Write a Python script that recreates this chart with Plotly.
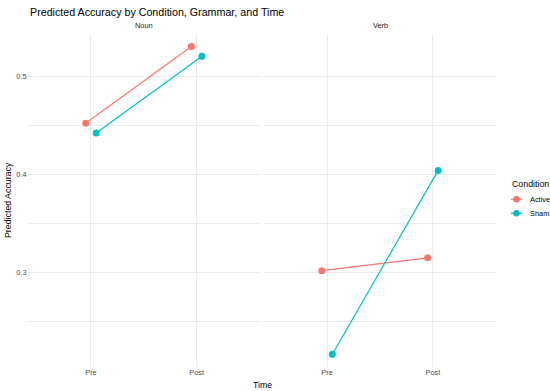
import plotly.graph_objects as go

title = "Predicted Accuracy by Condition, Grammar, and Time"
grammars = ["Noun", "Verb"]
times = ["Pre", "Post"]
conditions = ["Active", "Sham"]
colors = {"Active": "#F8766D", "Sham": "#00BFC4"}
# predicted accuracy values [Pre, Post]
noun_active = [0.452, 0.530]
noun_sham = [0.442, 0.520]
verb_active = [0.302, 0.315]
verb_sham = [0.217, 0.404]

values = {
    ("Noun", "Active"): noun_active,
    ("Noun", "Sham"): noun_sham,
    ("Verb", "Active"): verb_active,
    ("Verb", "Sham"): verb_sham,
}
dodge = {"Active": -0.05, "Sham": 0.05}

W, H = 550, 391
px = lambda v: v / W
py = lambda v: 1 - v / H

fig = go.Figure()
for gi, g in enumerate(grammars):
    xa = "x" if gi == 0 else "x2"
    for c in conditions:
        xs = [i + 1 + dodge[c] for i in range(len(times))]
        fig.add_trace(go.Scatter(
            x=xs, y=values[(g, c)], mode="lines+markers", name=c,
            xaxis=xa, yaxis="y",
            line=dict(color=colors[c], width=1.2),
            marker=dict(color=colors[c], size=7),
            showlegend=False,
        ))

grid = "#EBEBEB"
small = 7.4
xcommon = dict(range=[0.4, 2.6], tickvals=[1, 2], ticktext=times, showgrid=True,
               gridcolor=grid, gridwidth=1, zeroline=False, showline=False, ticks="",
               tickfont=dict(size=small, color="#4D4D4D", family="Liberation Sans"),
               fixedrange=True)

annotations = [
    dict(text=title, x=px(28), y=py(12), xanchor="left", yanchor="middle",
         font=dict(size=10.7, color="black")),
    dict(text="Noun", x=px(143.8), y=py(25.5), xanchor="center", yanchor="middle",
         font=dict(size=small, color="#1A1A1A")),
    dict(text="Verb", x=px(380), y=py(25.5), xanchor="center", yanchor="middle",
         font=dict(size=small, color="#1A1A1A")),
    dict(text="Time", x=px(262), y=py(385), xanchor="center", yanchor="middle",
         font=dict(size=8.8, color="black")),
    dict(text="Predicted Accuracy", x=px(8), y=py(200), xanchor="center", yanchor="middle",
         textangle=-90, font=dict(size=8.8, color="black")),
    dict(text="Condition", x=px(509.5), y=py(184), xanchor="left", yanchor="middle",
         font=dict(size=8.8, color="black")),
]
shapes = []
legend_y = {"Active": 199.3, "Sham": 213.3}
for c in conditions:
    yy = legend_y[c]
    shapes.append(dict(type="line", xref="paper", yref="paper", x0=px(511), x1=px(522),
                       y0=py(yy), y1=py(yy), line=dict(color=colors[c], width=1.2)))
    shapes.append(dict(type="circle", xref="paper", yref="paper", x0=px(516.5 - 3.3),
                       x1=px(516.5 + 3.3), y0=py(yy + 3.3), y1=py(yy - 3.3),
                       fillcolor=colors[c], line=dict(width=0)))
    annotations.append(dict(text=c, x=px(527.5), y=py(yy), xanchor="left", yanchor="middle",
                            font=dict(size=small, color="black")))
for a in annotations:
    a.update(xref="paper", yref="paper", showarrow=False)

fig.update_layout(
    width=W, height=H,
    margin=dict(l=0, r=0, t=0, b=0, autoexpand=False),
    paper_bgcolor="white", plot_bgcolor="white",
    xaxis=dict(domain=[px(27.6), px(260)], anchor="y", **xcommon),
    xaxis2=dict(domain=[px(263.6), px(496.4)], anchor="y", **xcommon),
    yaxis=dict(domain=[py(367), py(35)], range=[0.204, 0.5417],
               tickvals=[0.3, 0.4, 0.5], ticktext=["0.3", "0.4", "0.5"],
               showgrid=True, gridcolor=grid, gridwidth=1, zeroline=False, ticks="",
               minor=dict(tickvals=[0.25, 0.35, 0.45], showgrid=True, gridcolor=grid, gridwidth=0.6),
               tickfont=dict(size=small, color="#4D4D4D", family="Liberation Sans"),
               fixedrange=True),
    showlegend=False,
    font=dict(family="Liberation Sans"),
    annotations=annotations,
    shapes=shapes,
)
fig.write_html("out.html", config={"displayModeBar": False},
               post_script="document.body.style.margin='0';document.body.style.overflow='hidden';")
